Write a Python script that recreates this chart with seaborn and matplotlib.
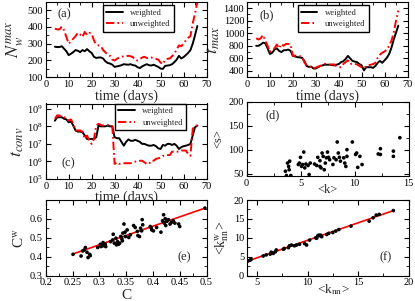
#---------------------------------------------
# Six panel figure: time series of network
# quantities plus three scatter comparisons
#---------------------------------------------

import numpy as np
import pandas as pd
import matplotlib
matplotlib.use("Agg")
import matplotlib.pyplot as plt
import seaborn as sns
from matplotlib.ticker import MultipleLocator, FuncFormatter, NullFormatter

#-----------------------DATA-----------------------------------

days = list(range(4, 67))

nmax_weighted = [282, 280, 280, 285, 270, 255, 232, 240, 250, 262, 258, 250, 262, 255, 268, 255,
                 245, 222, 215, 218, 218, 212, 195, 185, 182, 175, 162, 165, 168, 172, 178, 176,
                 175, 178, 172, 170, 160, 155, 165, 172, 178, 172, 170, 175, 168, 162, 152, 150,
                 168, 170, 172, 178, 190, 205, 228, 212, 220, 232, 245, 262, 300, 350, 405]
nmax_unweighted = [390, 385, 385, 402, 380, 340, 300, 315, 330, 345, 365, 355, 340, 370, 352, 365,
                   360, 320, 295, 290, 285, 262, 248, 235, 228, 205, 200, 210, 218, 222, 225, 225,
                   228, 225, 220, 202, 200, 208, 218, 222, 215, 215, 218, 212, 210, 205, 188, 178,
                   205, 210, 212, 225, 240, 265, 290, 285, 300, 320, 335, 345, 420, 480, 545]

tmax_weighted = [800, 800, 820, 850, 840, 760, 670, 690, 740, 760, 720, 700, 730, 730, 740, 720,
                 640, 630, 620, 615, 610, 560, 480, 465, 470, 440, 440, 460, 480, 490, 500, 500,
                 500, 495, 490, 500, 510, 540, 555, 590, 640, 600, 560, 550, 540, 510, 490, 410,
                 460, 460, 460, 450, 480, 530, 560, 530, 570, 610, 670, 770, 900, 1010, 1120]
tmax_unweighted = [920, 900, 920, 970, 880, 800, 700, 740, 760, 820, 760, 830, 800, 830, 830, 820,
                   640, 645, 640, 635, 630, 540, 490, 470, 460, 440, 455, 470, 480, 500, 515, 510,
                   500, 505, 505, 475, 460, 460, 510, 540, 570, 510, 520, 510, 505, 480, 460, 440,
                   480, 490, 500, 510, 530, 610, 660, 690, 710, 740, 800, 880, 1010, 1200, 1360]

tconv_weighted = [2.1e8, 3.3e8, 3.3e8, 3.3e8, 2.7e8, 2.5e8, 1.7e8, 1.9e8, 1.1e8, 5.8e7, 5.0e7,
                  5.0e7, 4.7e7, 3.0e7, 1.9e7, 1.9e7, 1.9e7, 1.9e7, 2.4e7, 1.1e8, 1.0e8, 1.0e8,
                  1.0e8, 1.1e8, 1.0e8, 1.0e8, 2.4e7, 2.1e7, 2.1e7, 1.3e7, 7.9e6, 1.3e7, 1.8e7,
                  1.5e7, 1.5e7, 1.7e7, 1.5e7, 1.3e7, 1.0e7, 1.0e7, 8.7e6, 7.9e6, 7.9e6, 8.7e6,
                  7.4e6, 5.6e6, 5.1e6, 8.7e6, 7.9e6, 1.0e7, 1.0e7, 8.7e6, 1.0e7, 7.9e6, 5.1e6,
                  6.5e6, 7.4e6, 7.9e6, 8.7e6, 1.0e7, 3.0e7, 8.9e7, 1.1e8]
tconv_unweighted = [2.7e8, 4.2e8, 4.2e8, 3.3e8, 3.3e8, 3.0e8, 2.1e8, 2.5e8, 1.4e8, 5.8e7, 5.8e7,
                    5.8e7, 5.0e7, 1.9e7, 3.0e7, 1.5e7, 1.0e7, 1.9e7, 1.1e8, 1.4e8, 1.2e8, 1.1e8,
                    1.2e8, 1.2e8, 1.1e8, 1.0e8, 7.2e5, 8.9e5, 7.2e5, 7.9e5, 7.9e5, 7.9e5, 7.9e5,
                    7.9e5, 8.9e5, 9.8e5, 9.8e5, 1.1e6, 1.1e6, 8.9e5, 7.2e5, 7.2e5, 1.1e6, 1.1e6,
                    1.4e6, 1.5e6, 1.7e6, 2.1e6, 2.1e6, 2.3e6, 2.3e6, 3.6e6, 3.6e6, 3.6e6, 3.6e6,
                    4.2e6, 4.2e6, 4.2e6, 2.7e6, 2.1e6, 7.2e7, 1.1e8, 1.1e8]

k_mean = [3.6, 3.7, 3.8, 3.9, 3.95, 4.0, 4.1, 4.8, 4.9, 5.0, 5.1, 5.2, 5.3, 5.4, 5.5, 5.7, 5.8,
          5.9, 6.3, 6.5, 6.6, 6.8, 6.8, 6.9, 7.0, 7.1, 7.2, 7.3, 7.4, 7.5, 7.6, 7.7, 8.0, 8.1,
          8.3, 8.4, 8.5, 8.6, 8.7, 9.0, 9.1, 9.2, 9.3, 9.3, 9.8, 10.1, 10.2, 10.3, 10.5, 10.7,
          12.2, 12.4, 12.4, 13.6, 13.6, 14.2]
s_mean = [55, 46, 72, 65, 58, 76, 46, 69, 72, 84, 65, 69, 95, 62, 70, 67, 48, 72, 70, 67, 84,
          77, 65, 62, 93, 86, 58, 72, 83, 95, 84, 79, 69, 83, 79, 116, 93, 84, 76, 83, 72, 65,
          100, 86, 116, 90, 93, 63, 86, 69, 91, 90, 102, 97, 86, 125]

clust = [0.251, 0.266, 0.269, 0.272, 0.274, 0.277, 0.279, 0.282, 0.283, 0.297, 0.302, 0.303,
         0.306, 0.307, 0.309, 0.311, 0.312, 0.321, 0.325, 0.326, 0.328, 0.331, 0.332, 0.334,
         0.336, 0.338, 0.340, 0.342, 0.343, 0.344, 0.346, 0.348, 0.349, 0.352, 0.355, 0.358,
         0.364, 0.367, 0.371, 0.372, 0.375, 0.377, 0.379, 0.380, 0.381, 0.395, 0.397, 0.398,
         0.401, 0.407, 0.415, 0.418, 0.420, 0.421, 0.423, 0.424, 0.426, 0.429, 0.432, 0.435,
         0.438, 0.441, 0.448, 0.450, 0.497]
clust_w = [0.413, 0.404, 0.431, 0.436, 0.449, 0.424, 0.396, 0.413, 0.406, 0.449, 0.466, 0.454,
           0.458, 0.475, 0.459, 0.466, 0.454, 0.480, 0.489, 0.519, 0.472, 0.498, 0.463, 0.480,
           0.466, 0.472, 0.507, 0.495, 0.484, 0.525, 0.573, 0.530, 0.507, 0.542, 0.502, 0.516,
           0.565, 0.555, 0.534, 0.512, 0.507, 0.551, 0.537, 0.596, 0.569, 0.560, 0.551, 0.542,
           0.537, 0.555, 0.530, 0.590, 0.622, 0.578, 0.601, 0.565, 0.587, 0.596, 0.573, 0.583,
           0.590, 0.578, 0.573, 0.560, 0.657]
clust_fit_x = [0.251, 0.497]
clust_fit_y = [0.415, 0.657]

knn = [4.1, 4.3, 4.4, 5.6, 5.9, 6.3, 6.4, 6.6, 6.8, 6.9, 7.6, 7.7, 8.1, 8.2, 8.4, 8.7, 8.9,
       9.2, 9.7, 9.9, 10.2, 10.8, 10.9, 11.0, 11.1, 11.2, 11.3, 11.4, 11.9, 12.1, 12.5, 12.8,
       13.1, 14.3, 16.1, 16.5, 16.8, 17.1, 18.5]
knn_w = [3.9, 4.1, 4.3, 5.2, 5.5, 5.7, 6.2, 5.9, 6.3, 6.8, 7.0, 7.2, 7.4, 7.9, 8.1, 7.9, 8.1,
         8.3, 8.5, 8.1, 9.4, 10.0, 9.9, 10.5, 10.7, 10.6, 10.7, 10.3, 10.9, 11.2, 11.4, 11.8,
         12.2, 13.1, 14.4, 15.3, 16.0, 16.2, 17.2]
knn_fit_x = [4.1, 18.5]
knn_fit_y = [3.9, 17.2]

#-----------------------STYLE----------------------------------

sns.set_theme(style="ticks")
plt.rcParams['font.family'] = ['Liberation Serif', 'DejaVu Serif']
plt.rcParams['mathtext.fontset'] = 'stix'
plt.rcParams['lines.scale_dashes'] = False
plt.rcParams['axes.linewidth'] = 0.8
plt.rcParams['axes.edgecolor'] = 'black'

W, H = 415, 301
fig = plt.figure(figsize=(4.15, 3.01), dpi=100)

def box(l, t, r, b):
    return [l / W, 1 - b / H, (r - l) / W, (b - t) / H]

def style_axis(ax, xmaj, xmin, ymaj=None, ymin=None):
    ax.tick_params(which='both', direction='in', top=True, right=True, labelsize=7.5,
                   colors='black', pad=2)
    ax.tick_params(which='major', length=3.5, width=0.8)
    ax.tick_params(which='minor', length=2, width=0.6)
    ax.xaxis.set_major_locator(MultipleLocator(xmaj))
    ax.xaxis.set_minor_locator(MultipleLocator(xmin))
    if ymaj is not None:
        ax.yaxis.set_major_locator(MultipleLocator(ymaj))
        ax.yaxis.set_minor_locator(MultipleLocator(ymin))
    fmt = FuncFormatter(lambda v, p: '%g' % round(v, 6))
    ax.xaxis.set_major_formatter(fmt)
    if ymaj is not None:
        ax.yaxis.set_major_formatter(fmt)

red_dash = (0, (6, 2.2, 1.2, 2.2))
leg_kw = dict(fontsize=6.2, frameon=True, fancybox=False, edgecolor='black', framealpha=1,
              handlelength=1.9, borderpad=0.4, labelspacing=0.45, handletextpad=0.9,
              borderaxespad=0)

#-----------------------PANEL A--------------------------------

ax = fig.add_axes(box(45.7, 1.7, 206.5, 77.3))
sns.lineplot(x=days, y=nmax_weighted, color='black', lw=1.4, ax=ax, label='weighted')
sns.lineplot(x=days, y=nmax_unweighted, color='red', lw=1.4, linestyle=red_dash, ax=ax,
             label='unweighted')
ax.set_xlim(0, 70)
ax.set_ylim(100, 550)
style_axis(ax, 10, 5, 100, 50)
ax.set_yticks([100, 200, 300, 400, 500])
ax.set_xlabel("time (days)", fontsize=10, labelpad=0)
ax.set_ylabel("$N_w^{max}$", fontsize=13, labelpad=1)
ax.legend(loc='upper left', bbox_to_anchor=(0.355, 0.955), **leg_kw)
ax.text(0.075, 0.8, "(a)", transform=ax.transAxes, fontsize=9)

#-----------------------PANEL B--------------------------------

ax = fig.add_axes(box(247, 1.7, 407.5, 77.3))
sns.lineplot(x=days, y=tmax_weighted, color='black', lw=1.4, ax=ax, label='weighted')
sns.lineplot(x=days, y=tmax_unweighted, color='red', lw=1.4, linestyle=red_dash, ax=ax,
             label='unweighted')
ax.set_xlim(0, 70)
ax.set_ylim(300, 1500)
style_axis(ax, 10, 5, 200, 100)
ax.set_yticks([400, 600, 800, 1000, 1200, 1400])
ax.set_xlabel("time (days)", fontsize=10, labelpad=0)
ax.set_ylabel("$t_{max}$", fontsize=13, labelpad=1)
ax.legend(loc='upper left', bbox_to_anchor=(0.315, 0.955), **leg_kw)
ax.text(0.08, 0.78, "(b)", transform=ax.transAxes, fontsize=9)

#-----------------------PANEL C--------------------------------

ax = fig.add_axes(box(45.7, 103.5, 206.5, 179))
sns.lineplot(x=days, y=tconv_weighted, color='black', lw=1.4, ax=ax, label='weighted')
sns.lineplot(x=days, y=tconv_unweighted, color='red', lw=1.4, linestyle=red_dash, ax=ax,
             label='unweighted')
ax.set_yscale('log')
ax.set_xlim(0, 70)
ax.set_ylim(1e5, 2e9)
style_axis(ax, 10, 5)
ax.set_yticks([1e5, 1e6, 1e7, 1e8, 1e9])
ax.yaxis.set_minor_formatter(NullFormatter())
ax.set_xlabel("time (days)", fontsize=10, labelpad=0)
ax.set_ylabel("$t_{conv}$", fontsize=13, labelpad=1)
ax.legend(loc='upper left', bbox_to_anchor=(0.43, 1.0), **leg_kw)
ax.text(0.1, 0.17, "(c)", transform=ax.transAxes, fontsize=9)

#-----------------------PANEL D--------------------------------

ax = fig.add_axes(box(246.5, 101.8, 408.5, 176))
sns.scatterplot(x=k_mean, y=s_mean, color='black', s=7, edgecolor='none', ax=ax)
ax.set_xlim(0, 15)
ax.set_ylim(45, 200)
style_axis(ax, 5, 2.5, 50, 25)
ax.set_xlabel("<k>", fontsize=9, labelpad=-3)
ax.set_ylabel("<s>", fontsize=9, labelpad=3)
ax.text(0.12, 0.78, "(d)", transform=ax.transAxes, fontsize=9)

#-----------------------PANEL E--------------------------------

ax = fig.add_axes(box(45.7, 200, 206.5, 275.7))
sns.lineplot(x=clust_fit_x, y=clust_fit_y, color='red', lw=1.2, ax=ax)
sns.scatterplot(x=clust, y=clust_w, color='black', s=7, edgecolor='none', ax=ax, zorder=3)
ax.set_xlim(0.2, 0.5)
ax.set_ylim(0.3, 0.7)
style_axis(ax, 0.05, 0.025, 0.1, 0.05)
ax.set_yticks([0.3, 0.4, 0.5, 0.6])
ax.set_xlabel("C", fontsize=11, labelpad=1)
ax.set_ylabel("C$^{\\rm w}$", fontsize=11, labelpad=2)
ax.text(0.82, 0.2, "(e)", transform=ax.transAxes, fontsize=9)

#-----------------------PANEL F--------------------------------

ax = fig.add_axes(box(247, 200, 408.5, 275.7))
sns.lineplot(x=knn_fit_x, y=knn_fit_y, color='red', lw=1.2, ax=ax)
sns.scatterplot(x=knn, y=knn_w, color='black', s=7, edgecolor='none', ax=ax, zorder=3)
ax.set_xlim(4, 20)
ax.set_ylim(0, 20)
style_axis(ax, 5, 2.5, 5, 2.5)
ax.set_xlabel("<k$_{\\rm nn}$>", fontsize=9.5)
ax.xaxis.set_label_coords(0.535, -0.085)
ax.set_ylabel("<k$_{\\rm nn}^{\\rm w}$>", fontsize=10, labelpad=2)
ax.text(0.82, 0.2, "(f)", transform=ax.transAxes, fontsize=9)

plt.savefig("out.png", dpi=100)
